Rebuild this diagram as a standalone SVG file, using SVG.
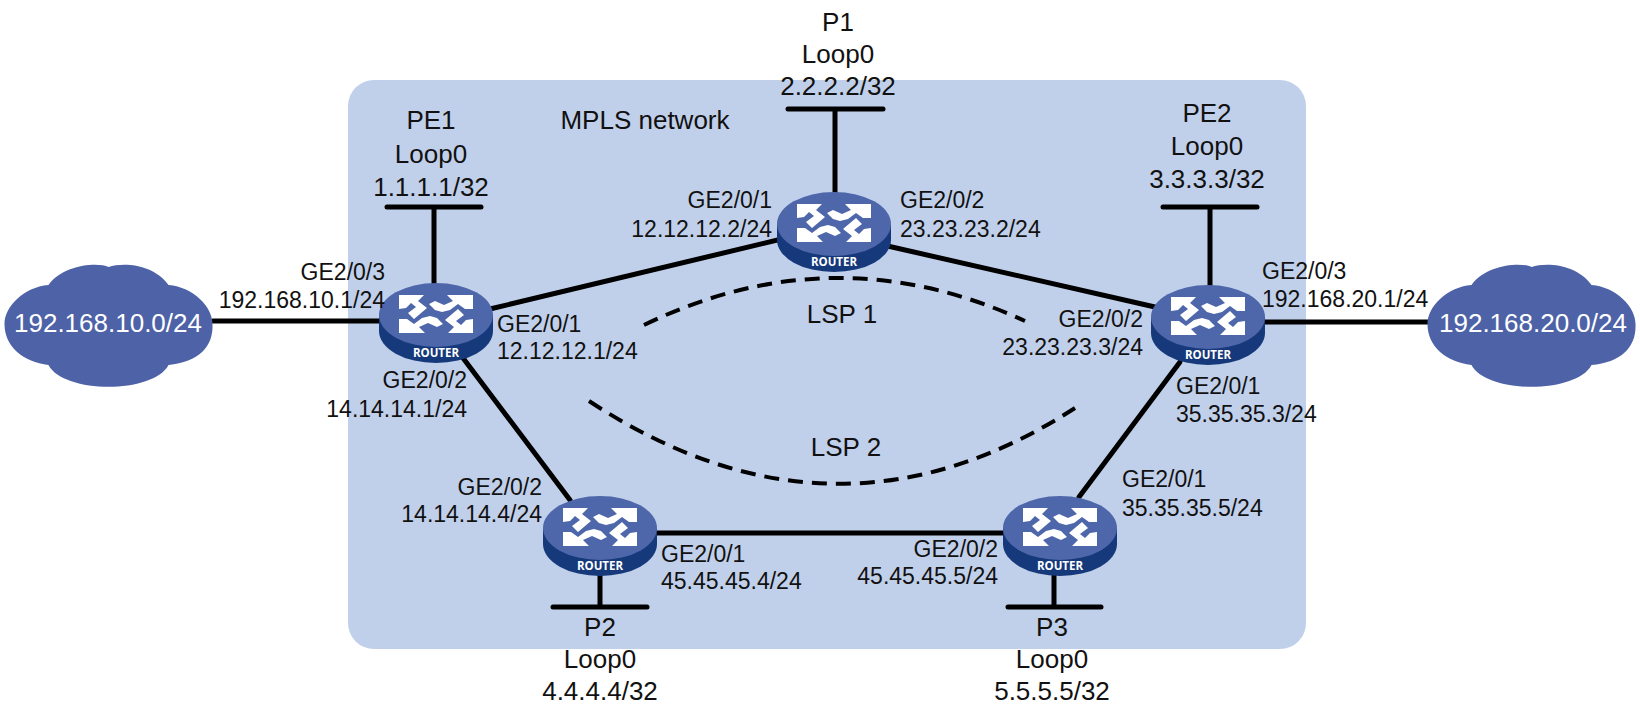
<svg xmlns="http://www.w3.org/2000/svg" width="1640" height="714" viewBox="0 0 1640 714">
<style>
text{font-family:"Liberation Sans",Arial,sans-serif;fill:#111}
.s{font-size:23px}
.e{text-anchor:end}
.b{font-size:26px;text-anchor:middle}
.c{font-size:26px;text-anchor:middle;fill:#fff}
.l{stroke:#000;stroke-width:5;fill:none;stroke-linecap:round}
.d{stroke:#000;stroke-width:4;fill:none;stroke-dasharray:15 9}
</style>
<defs>
<path id="arm1" d="M-37-20H-12L-18-14L-9-7L-22 4L-28-2L-20-8L-25-12L-30-7L-37-6Z"/>
<path id="arm2" d="M37-20H11L17-14L8-10L-1-14L-7-11L-1-5L6-3L14-5L22-11L29-6L37-6Z"/>
<g id="router">
<path d="M-57,0V16A57 32 0 0 0 57 16V0Z" fill="#15397a"/>
<ellipse cx="0" cy="0" rx="57" ry="32" fill="#4e67ab"/>
<g fill="#fff">
<use href="#arm1"/>
<use href="#arm2"/>
<use href="#arm1" transform="rotate(180 0 -1)"/>
<use href="#arm2" transform="rotate(180 0 -1)"/>
</g>
<text x="0" y="42" text-anchor="middle" style="font-family:'Open Sans',sans-serif;font-weight:700;font-size:11.5px;fill:#fff">ROUTER</text>
</g>
<path id="cloud" d="M-60-37C-45-58-10-60 0-55C15-60 45-58 60-37C85-35 104-15 104 2C105 25 90 40 60 43C45 72-45 72-60 43C-85 40-104 25-104 2C-104-15-85-35-60-37Z" fill="#4e62a7"/>
</defs>
<rect x="348" y="80" width="958" height="569" rx="26" fill="#c1d0ea"/>
<g id="connectors">
<path class="l" d="M213 321H385"/>
<path class="l" d="M1262 322H1430"/>
<path class="l" d="M434 208V290"/>
<path class="l" d="M387 207H481"/>
<path class="l" d="M835 110V195"/>
<path class="l" d="M788 109H883"/>
<path class="l" d="M1210 208V290"/>
<path class="l" d="M1163 207H1257"/>
<path class="l" d="M490 309L790 237"/>
<path class="l" d="M870 242L1155 307"/>
<path class="l" d="M463 358L570 500"/>
<path class="l" d="M1180 362L1079 497"/>
<path class="l" d="M650 533H1010"/>
<path class="l" d="M600 570V606"/>
<path class="l" d="M553 607H647"/>
<path class="l" d="M1054 570V606"/>
<path class="l" d="M1008 607H1101"/>
<path class="d" d="M644 325Q834 233 1025 321"/>
<path class="d" d="M589 401Q835 563 1075 408"/>
</g>
<g id="cloud1"><use href="#cloud" x="108.5" y="322"/><text class="c" x="108" y="332">192.168.10.0/24</text></g>
<g id="cloud2"><use href="#cloud" x="1531.5" y="322"/><text class="c" x="1533" y="332">192.168.20.0/24</text></g>
<g id="PE1"><use href="#router" x="436" y="315"/><text class="b" x="431" y="129">PE1</text><text class="b" x="431" y="163">Loop0</text><text class="b" x="431" y="196">1.1.1.1/32</text></g>
<g id="P1"><use href="#router" x="834" y="224"/><text class="b" x="838" y="31">P1</text><text class="b" x="838" y="63">Loop0</text><text class="b" x="838" y="95">2.2.2.2/32</text></g>
<g id="PE2"><use href="#router" x="1208" y="317"/><text class="b" x="1207" y="122">PE2</text><text class="b" x="1207" y="155">Loop0</text><text class="b" x="1207" y="188">3.3.3.3/32</text></g>
<g id="P2"><use href="#router" x="600" y="528"/><text class="b" x="600" y="636">P2</text><text class="b" x="600" y="668">Loop0</text><text class="b" x="600" y="700">4.4.4.4/32</text></g>
<g id="P3"><use href="#router" x="1060" y="528"/><text class="b" x="1052" y="636">P3</text><text class="b" x="1052" y="668">Loop0</text><text class="b" x="1052" y="700">5.5.5.5/32</text></g>
<g id="labels">
<text class="b" x="645" y="129">MPLS network</text>
<text class="b" x="842" y="323">LSP 1</text>
<text class="b" x="846" y="456">LSP 2</text>
<text class="s e" x="385" y="280">GE2/0/3</text><text class="s e" x="385" y="308">192.168.10.1/24</text>
<text class="s" x="497" y="332">GE2/0/1</text><text class="s" x="497" y="359">12.12.12.1/24</text>
<text class="s e" x="467" y="388">GE2/0/2</text><text class="s e" x="467" y="417">14.14.14.1/24</text>
<text class="s e" x="772" y="208">GE2/0/1</text><text class="s e" x="772" y="237">12.12.12.2/24</text>
<text class="s" x="900" y="208">GE2/0/2</text><text class="s" x="900" y="237">23.23.23.2/24</text>
<text class="s" x="1262" y="279">GE2/0/3</text><text class="s" x="1262" y="307">192.168.20.1/24</text>
<text class="s e" x="1143" y="327">GE2/0/2</text><text class="s e" x="1143" y="355">23.23.23.3/24</text>
<text class="s" x="1176" y="394">GE2/0/1</text><text class="s" x="1176" y="422">35.35.35.3/24</text>
<text class="s e" x="542" y="495">GE2/0/2</text><text class="s e" x="542" y="522">14.14.14.4/24</text>
<text class="s" x="661" y="562">GE2/0/1</text><text class="s" x="661" y="589">45.45.45.4/24</text>
<text class="s e" x="998" y="557">GE2/0/2</text><text class="s e" x="998" y="584">45.45.45.5/24</text>
<text class="s" x="1122" y="487">GE2/0/1</text><text class="s" x="1122" y="516">35.35.35.5/24</text>
</g>
</svg>
